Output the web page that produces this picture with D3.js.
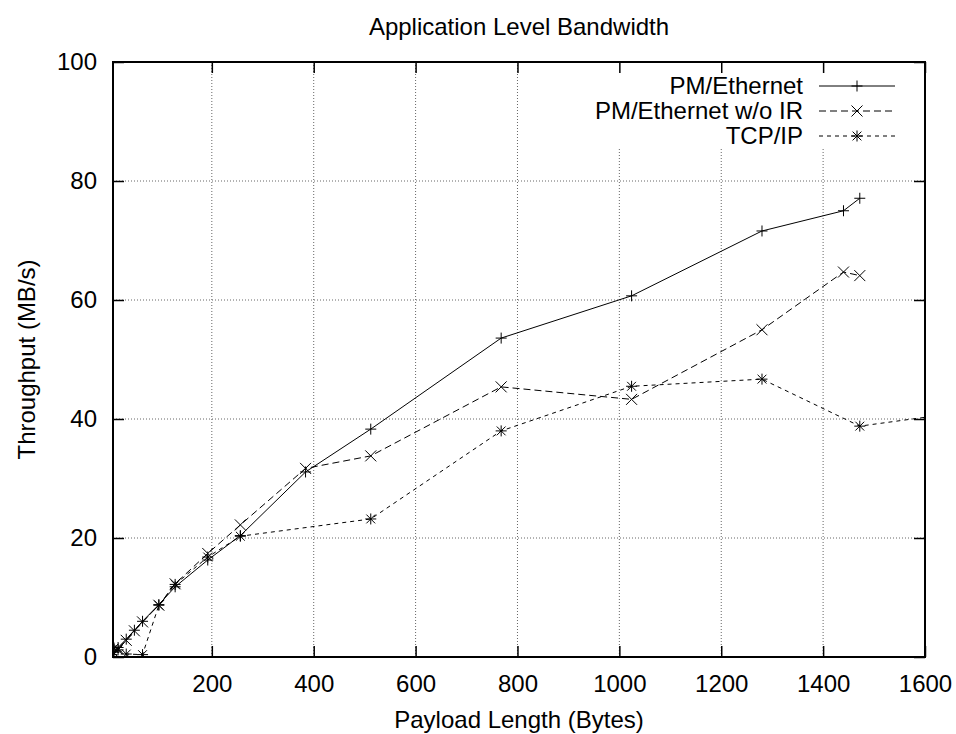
<!DOCTYPE html>
<html>
<head>
<meta charset="utf-8">
<script src="https://cdn.jsdelivr.net/npm/d3@7"></script>
<style>
  body { margin: 0; background: #fff; }
  text { font-family: "Liberation Sans", Arial, sans-serif; fill: #000; }
</style>
</head>
<body>
<div id="chart"></div>
<script>
// payload sizes (bytes) for each run
var pmSizes = [4, 8, 16, 32, 48, 64, 96, 128, 192, 256, 384, 512, 768, 1024, 1280, 1440, 1472];
var pmValues = [0.4, 0.8, 1.6, 3.0, 4.5, 6.0, 8.8, 11.8, 16.3, 20.4, 31.1, 38.3, 53.6, 60.7, 71.6, 75.0, 77.1];

var noIrSizes = [4, 8, 16, 32, 48, 64, 96, 128, 192, 256, 384, 512, 768, 1024, 1280, 1440, 1472];
var noIrValues = [0.3, 0.7, 1.4, 2.8, 4.4, 5.9, 8.7, 12.3, 17.4, 22.2, 31.7, 33.8, 45.4, 43.3, 55.0, 64.7, 64.1];

var tcpSizes = [4, 8, 16, 32, 64, 96, 128, 192, 256, 512, 768, 1024, 1280, 1472, 2048];
var tcpValues = [1.0, 1.5, 1.2, 0.5, 0.4, 8.7, 12.2, 16.8, 20.3, 23.2, 38.0, 45.5, 46.7, 38.8, 45.5];

var seriesNames = ["PM/Ethernet", "PM/Ethernet w/o IR", "TCP/IP"];
var xTicks = [200, 400, 600, 800, 1000, 1200, 1400, 1600];
var yTicks = [0, 20, 40, 60, 80, 100];

var width = 956, height = 734;
var margin = {top: 62, right: 31, bottom: 77, left: 113};
var plotW = width - margin.left - margin.right;
var plotH = height - margin.top - margin.bottom;
var fontSize = "24px";

var xScale = d3.scaleLinear().domain([6, 1600]).range([0, plotW]);
var yScale = d3.scaleLinear().domain([0, 100]).range([plotH, 0]);

var svg = d3.select("#chart").append("svg")
    .attr("width", width)
    .attr("height", height);

var g = svg.append("g")
    .attr("transform", `translate(${margin.left}, ${margin.top})`);

g.append("clipPath").attr("id", "clip")
    .append("rect").attr("width", plotW).attr("height", plotH);

// grid
g.selectAll(".vgrid").data(xTicks.filter(d => d < 1600)).enter()
    .append("line")
    .attr("x1", d => xScale(d)).attr("x2", d => xScale(d))
    .attr("y1", 0).attr("y2", plotH)
    .attr("stroke", "#666").attr("stroke-dasharray", "1,2");
g.selectAll(".hgrid").data(yTicks.filter(d => d > 0 && d < 100)).enter()
    .append("line")
    .attr("x1", 0).attr("x2", plotW)
    .attr("y1", d => yScale(d)).attr("y2", d => yScale(d))
    .attr("stroke", "#666").attr("stroke-dasharray", "1,2");

// legend background hides grid behind the key
g.append("rect")
    .attr("x", 455).attr("y", 2)
    .attr("width", 352).attr("height", 84)
    .attr("fill", "#fff");

// marker shapes
function plusPath(s) { return `M${-s},0H${s}M0,${-s}V${s}`; }
function crossPath(s) { return `M${-s},${-s}L${s},${s}M${-s},${s}L${s},${-s}`; }
function starPath(s) { return plusPath(s) + crossPath(s * 0.8); }

var series = [
    {name: seriesNames[0], sizes: pmSizes, values: pmValues, dash: null, marker: plusPath},
    {name: seriesNames[1], sizes: noIrSizes, values: noIrValues, dash: "7,4", marker: crossPath},
    {name: seriesNames[2], sizes: tcpSizes, values: tcpValues, dash: "4,4", marker: starPath}
];

var line = d3.line().x(d => xScale(d[0])).y(d => yScale(d[1]));

var plot = g.append("g").attr("clip-path", "url(#clip)");

series.forEach(s => {
    var pts = s.sizes.map((x, i) => [x, s.values[i]]);
    plot.append("path")
        .datum(pts)
        .attr("d", line)
        .attr("fill", "none")
        .attr("stroke", "#000")
        .attr("stroke-width", 1)
        .attr("stroke-dasharray", s.dash);
    plot.selectAll(null).data(pts).enter()
        .append("path")
        .attr("transform", d => `translate(${xScale(d[0])}, ${yScale(d[1])})`)
        .attr("d", s.marker(5.5))
        .attr("fill", "none")
        .attr("stroke", "#000")
        .attr("stroke-width", 1);
});

// axes with inward ticks on all four sides
var xAxis = d3.axisBottom(xScale).tickValues(xTicks).tickSize(-11).tickPadding(18).tickFormat(d3.format("d"));
var xAxisTop = d3.axisTop(xScale).tickValues(xTicks).tickSize(-11).tickFormat("");
var yAxis = d3.axisLeft(yScale).tickValues(yTicks).tickSize(-11).tickPadding(16).tickFormat(d3.format("d"));
var yAxisRight = d3.axisRight(yScale).tickValues(yTicks).tickSize(-11).tickFormat("");

function styleAxis(sel) {
    sel.select(".domain").remove();
    sel.selectAll(".tick line").attr("stroke", "#000").attr("stroke-width", 1.5);
    sel.selectAll(".tick text").style("font-size", fontSize).style("font-family", "Liberation Sans, Arial, sans-serif");
}

g.append("g").attr("transform", `translate(0, ${plotH})`).call(xAxis).call(styleAxis);
g.append("g").call(xAxisTop).call(styleAxis);
g.append("g").call(yAxis).call(styleAxis);
g.append("g").attr("transform", `translate(${plotW}, 0)`).call(yAxisRight).call(styleAxis);

// frame
g.append("rect")
    .attr("width", plotW).attr("height", plotH)
    .attr("fill", "none").attr("stroke", "#000").attr("stroke-width", 2);

// legend
var legend = g.append("g");
series.forEach((s, i) => {
    var ly = 24 + i * 25;
    legend.append("text")
        .attr("x", 690).attr("y", ly)
        .attr("dy", "0.35em")
        .attr("text-anchor", "end")
        .style("font-size", fontSize)
        .text(s.name);
    legend.append("line")
        .attr("x1", 706).attr("x2", 782)
        .attr("y1", ly).attr("y2", ly)
        .attr("stroke", "#000")
        .attr("stroke-dasharray", s.dash);
    legend.append("path")
        .attr("transform", `translate(744, ${ly})`)
        .attr("d", s.marker(5.5))
        .attr("fill", "none").attr("stroke", "#000");
});

// titles
svg.append("text")
    .attr("x", margin.left + plotW / 2).attr("y", 27)
    .attr("dy", "0.35em").attr("text-anchor", "middle")
    .style("font-size", fontSize)
    .text("Application Level Bandwidth");

svg.append("text")
    .attr("x", margin.left + plotW / 2).attr("y", 720)
    .attr("dy", "0.35em").attr("text-anchor", "middle")
    .style("font-size", fontSize)
    .text("Payload Length (Bytes)");

svg.append("text")
    .attr("transform", `translate(27, ${margin.top + plotH / 2}) rotate(-90)`)
    .attr("dy", "0.35em").attr("text-anchor", "middle")
    .style("font-size", fontSize)
    .text("Throughput (MB/s)");
</script>
</body>
</html>
